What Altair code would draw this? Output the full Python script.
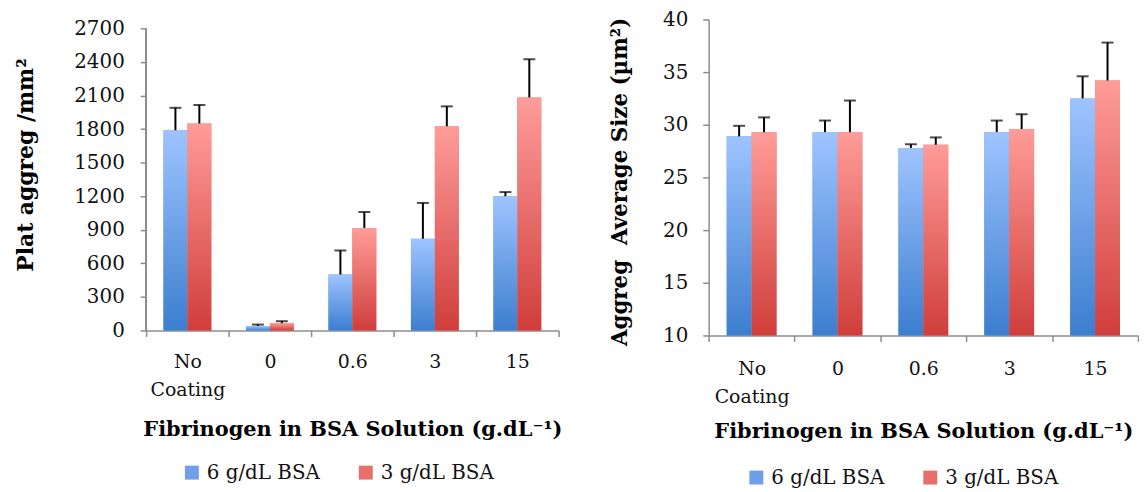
import altair as alt
import pandas as pd

# ---------------- data ----------------
categories = ["No Coating", "0", "0.6", "3", "15"]
series_names = ["6 g/dL BSA", "3 g/dL BSA"]

plat_6 = [1790, 40, 500, 820, 1200]
plat_6_sd = [200, 13, 215, 320, 37]
plat_3 = [1850, 65, 917, 1825, 2083]
plat_3_sd = [165, 18, 142, 178, 341]

size_6 = [28.9, 29.3, 27.8, 29.3, 32.5]
size_6_sd = [1.0, 1.1, 0.35, 1.1, 2.1]
size_3 = [29.3, 29.3, 28.1, 29.6, 34.2]
size_3_sd = [1.4, 3.0, 0.7, 1.4, 3.6]

plat_ticks = [0, 300, 600, 900, 1200, 1500, 1800, 2100, 2400, 2700]
size_ticks = [10, 15, 20, 25, 30, 35, 40]

x_title = "Fibrinogen in BSA Solution (g.dL⁻¹)"
left_y_title = "Plat aggreg /mm²"
right_y_title = "Aggreg\u00a0 Average Size (µm²)"


def long_table(v6, s6, v3, s3):
    rows = []
    for i, c in enumerate(categories):
        rows.append({"cat": c, "series": series_names[0], "value": v6[i], "sd": s6[i]})
        rows.append({"cat": c, "series": series_names[1], "value": v3[i], "sd": s3[i]})
    return pd.DataFrame(rows)


plat_df = long_table(plat_6, plat_6_sd, plat_3, plat_3_sd)
size_df = long_table(size_6, size_6_sd, size_3, size_3_sd)

# ---------------- styles ----------------
FONT = "DejaVu Serif"
GRAY = "#8C8C8C"
BLUE_GRAD = alt.Gradient(
    gradient="linear",
    stops=[alt.GradientStop(color="#9EC4FF", offset=0), alt.GradientStop(color="#3C7ECF", offset=1)],
    x1=0, x2=0, y1=0, y2=1,
)
RED_GRAD = alt.Gradient(
    gradient="linear",
    stops=[alt.GradientStop(color="#FF9C99", offset=0), alt.GradientStop(color="#CF3E3B", offset=1)],
    x1=0, x2=0, y1=0, y2=1,
)
SOLID = ["#6E9FE8", "#E86E6B"]


def panel(df, ymin, ymax, ticks, ytitle, ytitle_size, ytitle_y, width, height,
          label_pad, title_pad, x_label_pad, x_title_pad,
          legend_x, legend_y, draw_axis_line=False, axis_top=None):
    x = alt.X(
        "cat:N", sort=categories,
        scale=alt.Scale(paddingInner=0, paddingOuter=0),
        axis=alt.Axis(
            title=x_title, labelAngle=0, labelExpr="split(datum.label, ' ')",
            tickBand="extent", labelOverlap=False,
            labelPadding=x_label_pad, titlePadding=x_title_pad,
        ),
    )
    xo = alt.XOffset(
        "series:N", sort=series_names,
        scale=alt.Scale(domain=series_names, paddingInner=0, paddingOuter=0.724),
    )
    yscale = alt.Scale(domain=[ymin, ymax], nice=False, zero=False)
    yaxis = alt.Axis(
        values=ticks, format="d", title=ytitle, labelPadding=label_pad,
        titlePadding=title_pad, titleFontSize=ytitle_size, titleY=ytitle_y,
        labelFontSize=20, domain=not draw_axis_line,
    )

    def Y(field):
        return alt.Y(field, scale=yscale, axis=yaxis)

    base = alt.Chart(df)
    legend_bars = base.mark_bar().encode(
        x=x, xOffset=xo, y=Y("value:Q"), y2=alt.datum(ymin),
        color=alt.Color(
            "series:N", sort=series_names,
            scale=alt.Scale(domain=series_names, range=SOLID),
            legend=alt.Legend(
                title=None, orient="none", direction="horizontal",
                legendX=legend_x, legendY=legend_y,
                symbolType="square", symbolSize=196, symbolStrokeWidth=0,
                labelFont=FONT, labelFontSize=20, labelColor="#111111",
                labelOffset=5, columnPadding=36, padding=0,
            ),
        ),
    )
    grad_layers = []
    for s, g in zip(series_names, [BLUE_GRAD, RED_GRAD]):
        grad_layers.append(
            base.transform_filter(alt.datum.series == s)
            .mark_bar(fill=g)
            .encode(x=x, xOffset=xo, y=Y("value:Q"), y2=alt.datum(ymin))
        )
    err = base.transform_calculate(top="datum.value + datum.sd")
    rules = err.mark_rule(color="black", strokeWidth=2).encode(
        x=x, xOffset=xo, y=Y("value:Q"), y2="top:Q"
    )
    caps = err.mark_tick(color="black", thickness=2, size=12, orient="horizontal").encode(
        x=x, xOffset=xo, y=Y("top:Q")
    )
    layers = [legend_bars] + grad_layers + [rules, caps]
    if draw_axis_line:
        line = base.mark_rule(color=GRAY, strokeWidth=1.5).encode(
            x=alt.value(0),
            y=alt.Y(datum=ymin, scale=yscale, axis=yaxis),
            y2=alt.Y2(datum=axis_top),
        )
        layers.append(line)
    return alt.layer(*layers).properties(width=width, height=height)


left = panel(plat_df, 0, 2780, plat_ticks, left_y_title, 22, 146, 415, 313,
             label_pad=16, title_pad=36, x_label_pad=16, x_title_pad=20,
             legend_x=36, legend_y=446, draw_axis_line=True, axis_top=2700)
right = panel(size_df, 10, 40, size_ticks, right_y_title, 21.5, 163, 432, 318,
              label_pad=15, title_pad=31, x_label_pad=18, x_title_pad=15,
              legend_x=38, legend_y=451)

chart = (
    alt.hconcat(left, right, spacing=47)
    .resolve_scale(x="independent", y="independent", xOffset="independent", color="independent")
    .resolve_legend(color="independent")
    .properties(padding={"left": 7, "top": 0, "right": 0, "bottom": 0})
    .configure_view(stroke=None)
    .configure_axis(
        domainColor=GRAY, domainWidth=1.5, tickColor=GRAY, tickWidth=1.5, tickSize=6,
        labelFont=FONT, labelFontSize=19, labelColor="#111111",
        titleFont=FONT, titleFontWeight="bold", titleColor="#000000", grid=False,
    )
    .configure_axisX(labelLineHeight=28, labelBaseline="top", titleFontSize=21)
)

chart.save("out.html", embed_options={"renderer": "svg", "actions": False})
